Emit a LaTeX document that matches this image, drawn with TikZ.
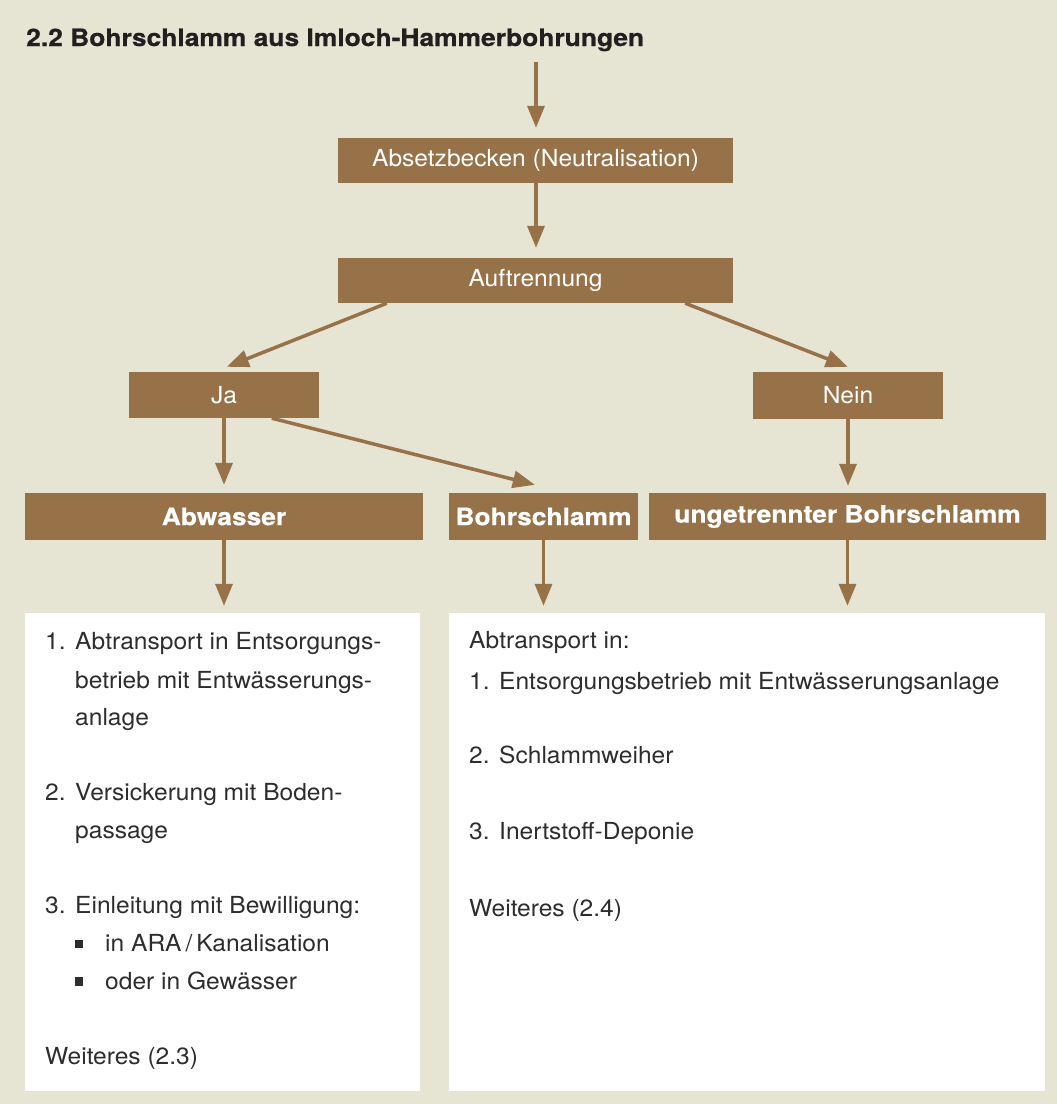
\documentclass[tikz,border=0pt]{standalone}
\usepackage{fontspec}
\setmainfont[FakeStretch=1.045]{TeX Gyre Heros}
\newfontfamily\widefont[FakeStretch=1.1,FakeBold=0.6]{TeX Gyre Heros}
\usetikzlibrary{arrows.meta,calc}
\definecolor{bgbeige}{RGB}{230,228,211}
\definecolor{boxbrown}{RGB}{151,114,73}
\definecolor{txtgray}{RGB}{45,45,45}
\definecolor{titleblack}{RGB}{35,31,32}
\begin{document}
\begin{tikzpicture}[x=1pt,y=-1pt,
  bbox/.style={fill=boxbrown, text=white, inner sep=0pt, font=\fontsize{23.5}{28}\selectfont},
  boldbox/.style={bbox, font=\widefont\bfseries\fontsize{24}{28}\selectfont},
  whitebox/.style={fill=white, inner sep=0pt},
  arr/.style={draw=boxbrown, line width=3.5pt, -{Triangle[length=22pt,width=17pt]}},
  body/.style={anchor=base west, inner sep=0pt, text=txtgray, font=\fontsize{23.5}{28}\selectfont},
  sq/.style={fill=txtgray, minimum size=8.5pt, inner sep=0pt}
]
\fill[bgbeige] (0,0) rectangle (1057,1104);
\useasboundingbox (0,0) rectangle (1057,1104);

\node[anchor=base west, inner sep=0pt, text=titleblack, font=\widefont\bfseries\fontsize{24}{28}\selectfont] (title) at (26,46) {2.2 Bohrschlamm aus Imloch-Hammerbohrungen};

% brown boxes
\node[bbox, minimum width=395pt, minimum height=45pt] (absetz) at (535.5,160.5) {Absetzbecken (Neutralisation)};
\node[bbox, minimum width=395pt, minimum height=45pt] (auft) at (535.5,280.5) {Auftrennung};
\node[bbox, minimum width=190pt, minimum height=46pt] (ja) at (224,395) {Ja};
\node[bbox, minimum width=190pt, minimum height=47pt] (nein) at (848,395.5) {Nein};
\node[boldbox, minimum width=398pt, minimum height=47pt] (abw) at (224,516.5) {Abwasser};
\node[boldbox, minimum width=189pt, minimum height=47pt] (bohr) at (543.5,516.5) {Bohrschlamm};
\node[boldbox, minimum width=397pt, minimum height=47pt] (unget) at (847.5,516.5) {ungetrennter Bohrschlamm};

% white boxes
\node[whitebox, minimum width=395pt, minimum height=478pt] (wl) at (222.5,852) {};
\node[whitebox, minimum width=596pt, minimum height=478pt] (wr) at (747,852) {};

% arrows
\coordinate (start) at (536,62);
\draw[arr, shorten >=10pt] (start) -- (absetz.north -| start);
\draw[arr, shorten >=10pt] (absetz.south -| start) -- (auft.north -| start);
\draw[arr] ([xshift=49pt]auft.south west) -- ([xshift=98pt,yshift=5pt]ja.north west);
\draw[arr] ([xshift=-48pt]auft.south east) -- ([xshift=95pt,yshift=5pt]nein.north west);
\draw[arr, shorten >=8pt] (ja.south) -- (abw.north -| ja.south);
\draw[arr] ([xshift=143pt]ja.south west) -- ([xshift=86pt,yshift=8pt]bohr.north west);
\draw[arr, shorten >=7pt] (nein.south) -- (unget.north -| nein.south);
\draw[arr, shorten >=7pt] (abw.south) -- (abw.south |- wl.north);
\draw[arr, shorten >=7pt] (bohr.south) -- (bohr.south |- wr.north);
\draw[arr, shorten >=7pt] (unget.south) -- (unget.south |- wr.north);

% left box text
\node[body] (l1n) at (45,649) {1.};
\node[body] (l1a) at (75,649) {Abtransport in Entsorgungs-};
\node[body] (l1b) at (75,688) {betrieb mit Entwässerungs-};
\node[body] (l1c) at (75,725.5) {anlage};
\node[body] (l2n) at (45,800.5) {2.};
\node[body] (l2a) at (75,800.5) {Versickerung mit Boden-};
\node[body] (l2b) at (75,838) {passage};
\node[body] (l3n) at (45,913.5) {3.};
\node[body] (l3a) at (75,913.5) {Einleitung mit Bewilligung:};
\node[sq] (b1) at (79,944) {};
\node[body] (l3b) at (105,951.5) {in ARA\,/\,Kanalisation};
\node[sq] (b2) at (79,981.5) {};
\node[body] (l3c) at (105,989) {oder in Gewässer};
\node[body] (lw) at (45,1064) {Weiteres (2.3)};

% right box text
\node[body] (r0) at (469,648) {Abtransport in:};
\node[body] (r1n) at (469,689) {1.};
\node[body] (r1) at (499,689) {Entsorgungsbetrieb mit Entwässerungsanlage};
\node[body] (r2n) at (469,763.5) {2.};
\node[body] (r2) at (499,763.5) {Schlammweiher};
\node[body] (r3n) at (469,839) {3.};
\node[body] (r3) at (499,839) {Inertstoff-Deponie};
\node[body] (rw) at (469,916) {Weiteres (2.4)};
\end{tikzpicture}
\end{document}
